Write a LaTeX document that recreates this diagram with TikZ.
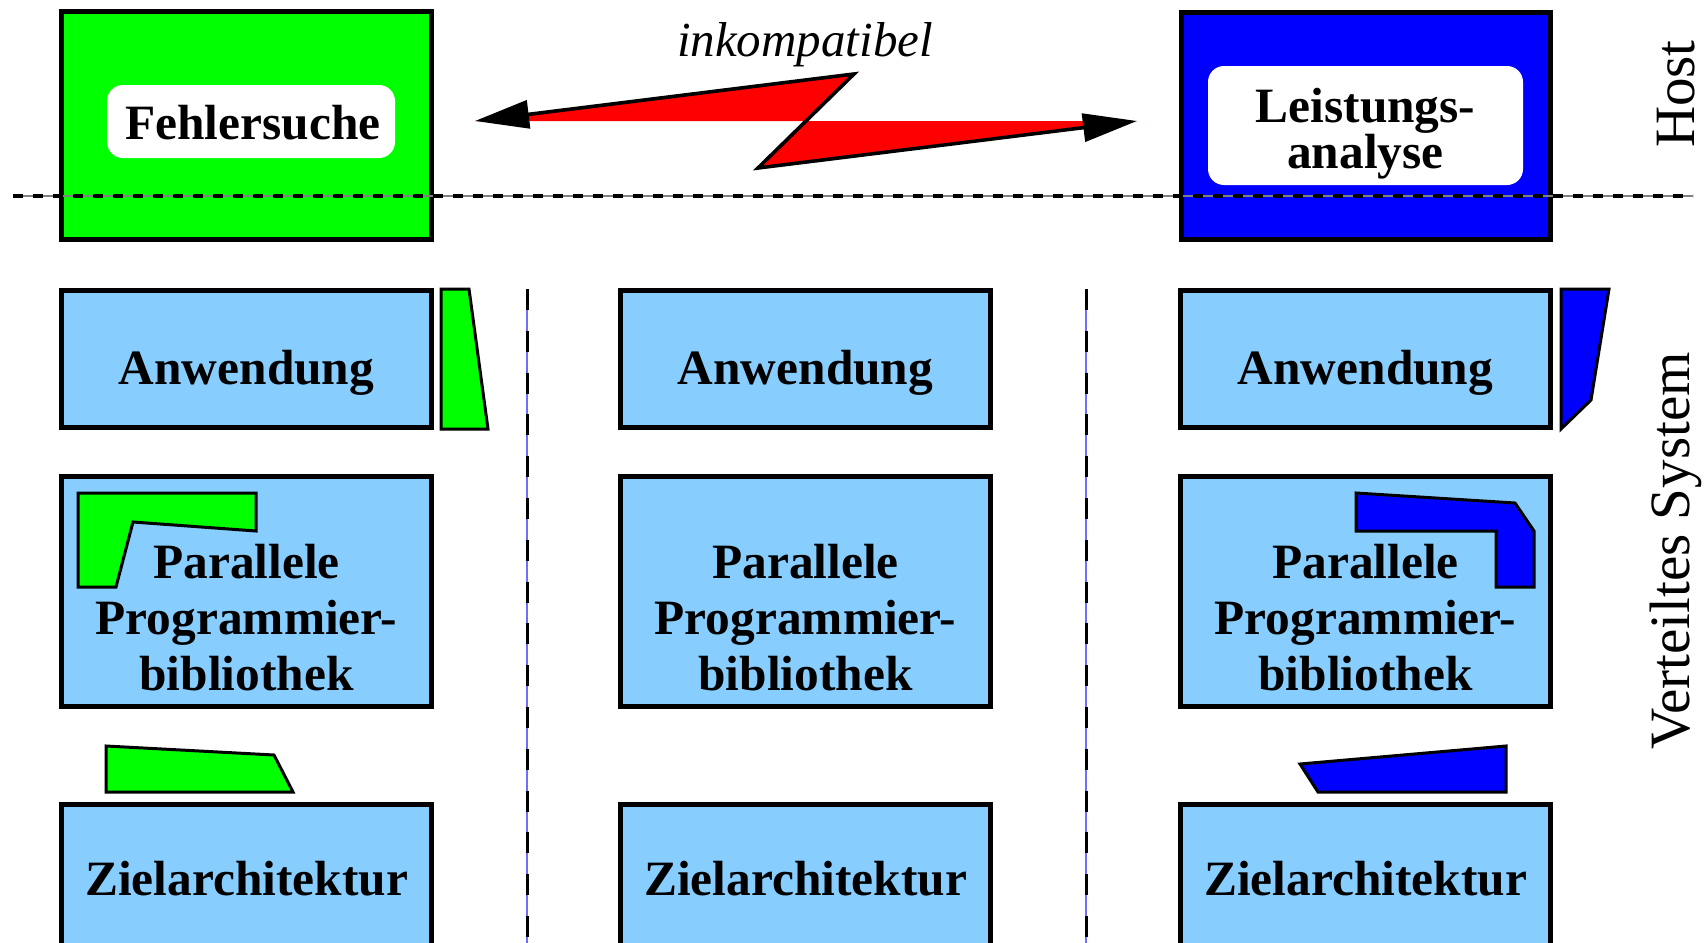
\documentclass[tikz,border=0pt]{standalone}
\usepackage{fontspec}
\setmainfont{Liberation Serif}
\usetikzlibrary{arrows.meta}
\definecolor{ltblue}{RGB}{135,206,255}
\definecolor{fgreen}{RGB}{0,255,0}
\definecolor{fblue}{RGB}{0,0,255}
\definecolor{fred}{RGB}{255,0,0}
\definecolor{vline}{RGB}{110,110,255}
\begin{document}
\begin{tikzpicture}[x=0.5pt,y=-0.5pt,
  box/.style={draw=black,line width=2.9pt},
  lbl/.style={font=\fontsize{24.7}{28}\selectfont\bfseries,align=center,inner sep=0pt},
  whitebox/.style={fill=white,rounded corners=8pt},
  deco/.style={draw=black,line width=1.5pt,line join=miter},
  side/.style={font=\fontsize{28.5}{30}\selectfont,rotate=90,inner sep=0pt},
  hdash/.style={line width=2.4pt,dash pattern=on 5pt off 5pt},
  vdash/.style={line width=1.5pt,dash pattern=on 10.5pt off 10.4pt}]
\useasboundingbox (0,0) rectangle (1706,942);

% host boxes
\draw[box,fill=fgreen] (61.5,11.5) rectangle (431.5,239.5);
\draw[box,fill=fblue] (1181.5,12.5) rectangle (1550.5,239.5);
\fill[whitebox] (107,85) rectangle (395,158);
\fill[whitebox] (1208,66) rectangle (1523,185);
\node[lbl] (fehler) at (253,123) {Fehlersuche};
\node[lbl,font=\fontsize{24.7}{23}\selectfont\bfseries] (leist) at (1365.5,133.5) {Leistungs-\\analyse};

% system boxes
\foreach \c/\xa/\xb in {1/61.5/431.5, 2/620.5/990.5, 3/1180.5/1550.5}{
  \draw[box,fill=ltblue] (\xa,290.5) rectangle (\xb,427.5);
  \draw[box,fill=ltblue] (\xa,476.5) rectangle (\xb,706.5);
  \draw[box,fill=ltblue] (\xa,804.5) rectangle (\xb,1000);
}

% decorations
\draw[deco,fill=fgreen] (441,289) -- (469,289) -- (488,429) -- (441,429) -- cycle;
\draw[deco,fill=fblue] (1561,289) -- (1609,289) -- (1591,400) -- (1561,429) -- cycle;
\draw[deco,fill=fgreen] (78,493) -- (256,493) -- (256,531) -- (133,522) -- (116,587) -- (78,587) -- cycle;
\draw[deco,fill=fblue] (1356,493) -- (1515,503) -- (1534,531) -- (1534,587) -- (1496,587) -- (1496,531) -- (1356,531) -- cycle;
\draw[deco,fill=fgreen] (106,746) -- (274,755) -- (293,792) -- (106,792) -- cycle;
\draw[deco,fill=fblue] (1300,764) -- (1506,746) -- (1506,792) -- (1318,792) -- cycle;

% labels
\foreach \x/\n in {246.5/1, 805.5/2, 1365.5/3}{
  \node[lbl] (anw\n) at (\x,373) {Anwendung};
  \node[lbl] (par\n) at (\x,618) {Parallele\\Programmier-\\bibliothek};
  \node[lbl] (ziel\n) at (\x,879) {Zielarchitektur};
}

% lightning
\coordinate (L) at (475,121);
\coordinate (T) at (854,74);
\coordinate (B) at (758,168);
\coordinate (R) at (1137,121);
\fill[fred] (L) -- (T) -- (B) -- (R) -- cycle;
\draw[line width=1.8pt,line join=miter,{Triangle[length=27pt,width=14pt]}-{Triangle[length=27pt,width=14pt]}] (L) -- (T) -- (B) -- (R);
\node[font=\fontsize{24.5}{28}\selectfont\itshape,inner sep=0pt] (ink) at (805,45) {inkompatibel};

% separators
\coordinate (h1) at (13,196);
\coordinate (h2) at (1693,196);
\draw[gray,line width=0.6pt] (h1) -- (h2);
\draw[hdash] (h1) -- (h2);
\foreach \x/\n in {527/a, 1086/b}{
  \coordinate (v\n1) at (\x,289);
  \coordinate (v\n2) at (\x,960);
  \draw[vline,line width=0.6pt] (v\n1) -- (v\n2);
  \draw[vdash] (v\n1) -- (v\n2);
}

% side labels
\node[side] (host) at (1676,94) {Host};
\node[side] (vs) at (1676,551) {Verteiltes System};
\end{tikzpicture}
\end{document}
